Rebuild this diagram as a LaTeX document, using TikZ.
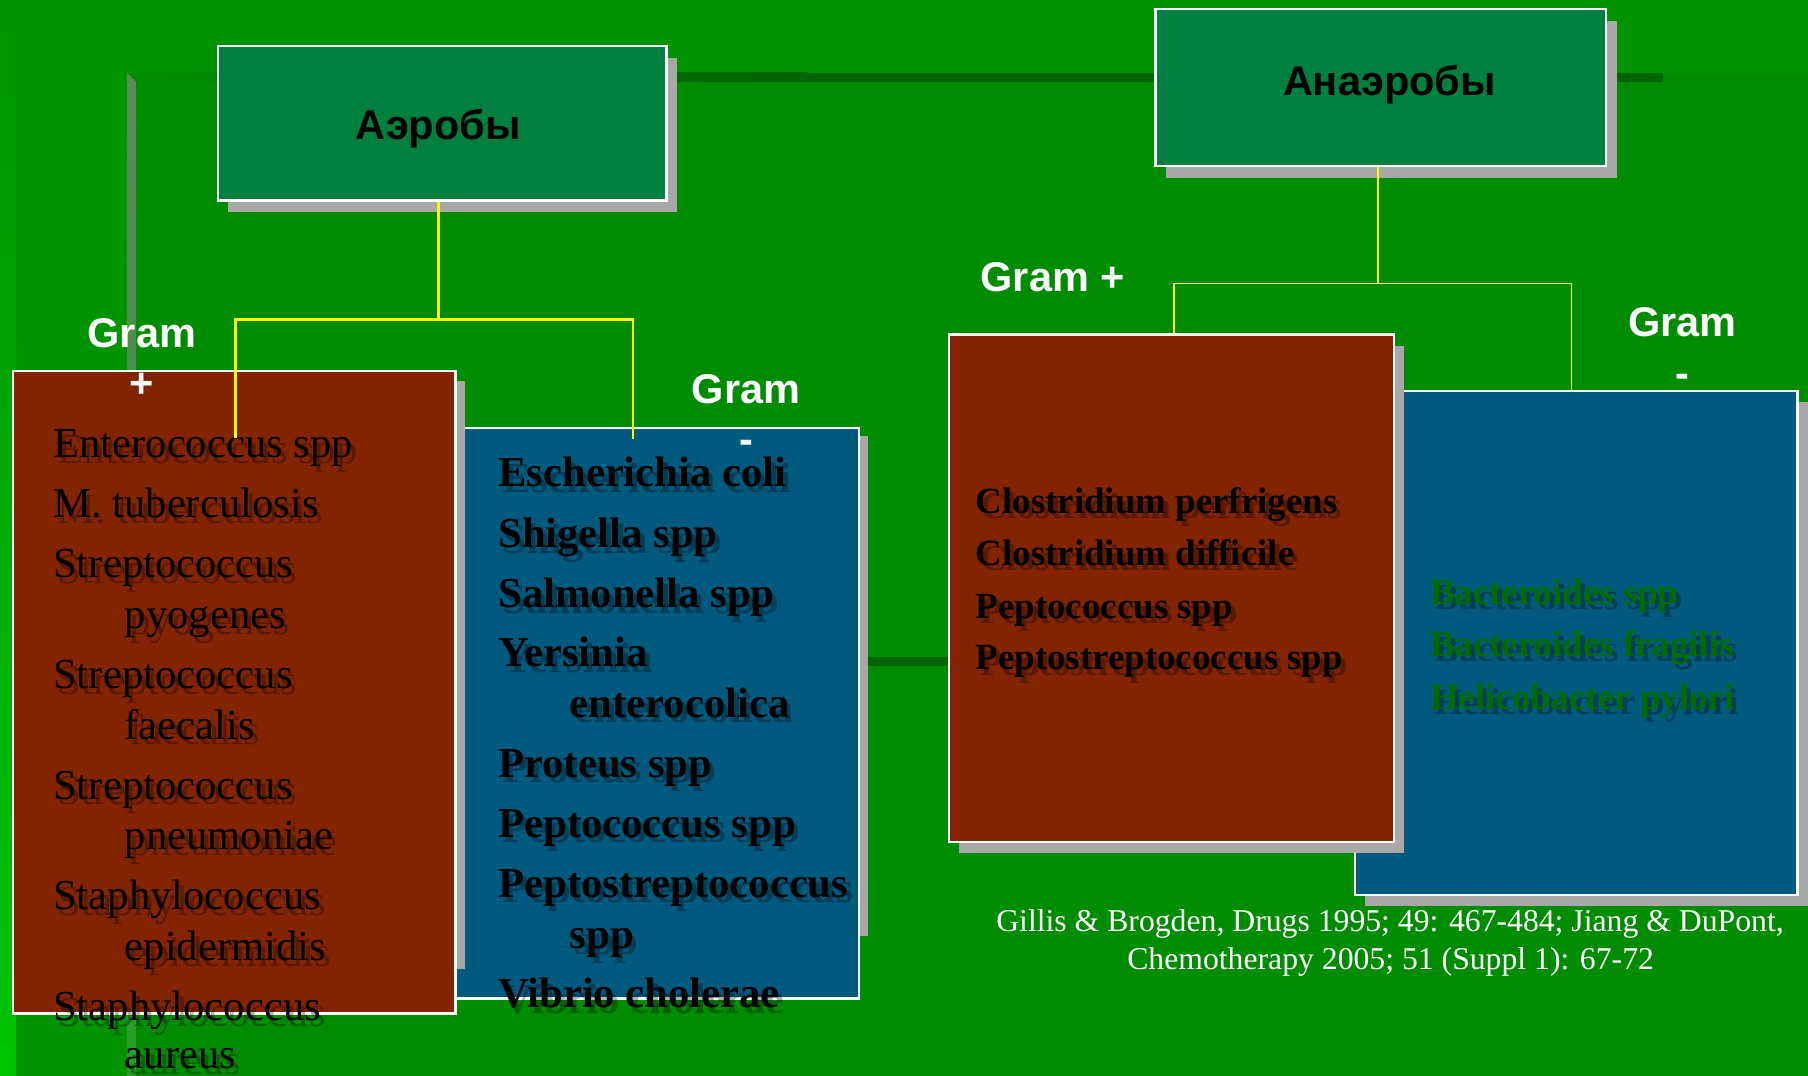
\documentclass[tikz,border=0pt]{standalone}
\usepackage{fontspec}
\setmainfont{Liberation Serif}
\newfontfamily\hsans{Liberation Sans}
\usetikzlibrary{shadows}
\definecolor{bgout}{HTML}{009400}
\definecolor{bgin}{HTML}{008C00}
\definecolor{brightg}{HTML}{00C400}
\definecolor{titlefill}{HTML}{008040}
\definecolor{brownfill}{HTML}{822400}
\definecolor{bluefill}{HTML}{005A7E}
\definecolor{shadowgrey}{HTML}{A8A8A8}
\definecolor{bargreen}{HTML}{006400}
\definecolor{framebar}{HTML}{5A8A5A}
\definecolor{listgreen}{HTML}{006C00}
\definecolor{yel}{HTML}{FFFF00}
\newcommand{\sline}[5]{%
  \node[#4, text=black, text opacity=0.3, anchor=base west] at (#2+4,#3+5) {#5};
  \node[#4, anchor=base west] (#1) at (#2,#3) {#5};
}
\begin{document}
\begin{tikzpicture}[x=1pt,y=-1pt,
  box/.style={draw=white, line width=2pt, inner sep=0pt, anchor=north west},
  sbox/.style={box, drop shadow={shadow xshift=9pt, shadow yshift=-10pt, fill=shadowgrey, opacity=1}},
  title/.style={font=\hsans\bfseries\fontsize{36}{40}\selectfont, text=black, text height=26pt, text depth=0pt, inner sep=0pt},
  gram/.style={font=\hsans\bfseries\fontsize{36}{40}\selectfont, text=white, inner sep=0pt, anchor=base},
  listR/.style={font=\fontsize{37}{44}\selectfont, text=black, inner sep=0pt},
  listB/.style={font=\bfseries\fontsize{37}{44}\selectfont, text=black, inner sep=0pt},
  listC/.style={font=\bfseries\fontsize{32}{38}\selectfont, text=black, inner sep=0pt},
  listD/.style={font=\bfseries\fontsize{32}{38}\selectfont, text=listgreen, inner sep=0pt},
  cite/.style={font=\fontsize{27.5}{33}\selectfont, text=white, inner sep=0pt, anchor=base},
  yline/.style={draw=yel, line width=2.4pt},
  ylinethin/.style={draw=yel, line width=1.3pt}]
\useasboundingbox (0,0) rectangle (1568,933);
% background and frame
\fill[bgout] (0,0) rectangle (1568,933);
\fill[bgin] (110,63) rectangle (1568,933);
\shade[top color=bgout, middle color=bgout!60!brightg, bottom color=brightg] (0,0) rectangle (14,933);
\shade[top color=framebar, bottom color=bgin!85!white] (110,63) -- (118,71) -- (118,933) -- (110,933) -- cycle;
\shade[left color=bgin, right color=bargreen] (118,63) rectangle (700,71);
\fill[bargreen] (700,63) rectangle (1442,71);
\fill[bargreen] (118,570) rectangle (1442,578);
% title boxes
\node[sbox, fill=titlefill, minimum width=389pt, minimum height=134pt] (aer) at (188,39) {};
\node[sbox, fill=titlefill, minimum width=391pt, minimum height=136pt] (anaer) at (1001,7) {};
\node[title] (aerT) at (380,108) {Аэробы};
\node[title] (anaerT) at (1205,70) {Анаэробы};
% aerobic boxes
\fill[shadowgrey] (744,378) rectangle (753,812);
\node[box, fill=bluefill, minimum width=352pt, minimum height=495pt] (agn) at (392,370) {};
\fill[shadowgrey] (394,330) rectangle (403,840);
\node[box, fill=brownfill, minimum width=384pt, minimum height=557pt] (agp) at (10,321) {};
% anaerobic boxes
\node[sbox, fill=bluefill, minimum width=384pt, minimum height=437pt] (bgn) at (1174,338) {};
\node[sbox, fill=brownfill, minimum width=386pt, minimum height=440pt] (bgp) at (822,289) {};
% lists
\sline{l1}{46}{397}{listR}{Enterococcus spp}
\sline{l2}{46}{449}{listR}{M. tuberculosis}
\sline{l3}{46}{501}{listR}{Streptococcus}
\sline{l4}{108}{545}{listR}{pyogenes}
\sline{l5}{46}{597}{listR}{Streptococcus}
\sline{l6}{108}{641}{listR}{faecalis}
\sline{l7}{46}{693}{listR}{Streptococcus}
\sline{l8}{108}{737}{listR}{pneumoniae}
\sline{l9}{46}{789}{listR}{Staphylococcus}
\sline{l10}{108}{833}{listR}{epidermidis}
\sline{l11}{46}{885}{listR}{Staphylococcus}
\sline{l12}{108}{927}{listR}{aureus}
\sline{r1}{432}{422}{listB}{Escherichia coli}
\sline{r2}{432}{475}{listB}{Shigella spp}
\sline{r3}{432}{527}{listB}{Salmonella spp}
\sline{r4}{432}{578}{listB}{Yersinia}
\sline{r5}{494}{622}{listB}{enterocolica}
\sline{r6}{432}{674}{listB}{Proteus spp}
\sline{r7}{432}{726}{listB}{Peptococcus spp}
\sline{r8}{432}{778}{listB}{Peptostreptococcus}
\sline{r9}{494}{823}{listB}{spp}
\sline{r10}{432}{874}{listB}{Vibrio cholerae}
\sline{c1}{846}{445}{listC}{Clostridium perfrigens}
\sline{c2}{846}{490}{listC}{Clostridium difficile}
\sline{c3}{846}{536}{listC}{Peptococcus spp}
\sline{c4}{846}{581}{listC}{Peptostreptococcus spp}
\sline{d1}{1240}{524}{listD}{Bacteroides spp}
\sline{d2}{1240}{569}{listD}{Bacteroides fragilis}
\sline{d3}{1240}{615}{listD}{Helicobacter pylori}
% connectors
\coordinate (aj) at (380,277);
\coordinate (aL) at (204,380);
\coordinate (aR) at (549,381);
\draw[yline] (aer.south -| aj) -- (aj);
\draw[yline] (aL) |- (aj) -| (aR);
\coordinate (bj) at (1195,246);
\coordinate (bL) at (1018,289);
\coordinate (bR) at (1363,338);
\draw[ylinethin] (anaer.south -| bj) -- (bj);
\draw[ylinethin] (bL) |- (bj) -| (bR);
% Gram labels
\node[gram] (g1) at (123,301) {Gram};
\node[gram] (g1s) at (123,345) {+};
\node[gram] (g2) at (647,350) {Gram};
\node[gram] (g2s) at (647,393) {-};
\node[gram] (g3) at (913,253) {Gram +};
\node[gram] (g4) at (1459,292) {Gram};
\node[gram] (g4s) at (1459,336) {-};
% citation
\node[cite] (cit1) at (1205.5,808) {Gillis \& Brogden, Drugs 1995; 49: 467-484; Jiang \& DuPont,};
\node[cite] (cit2) at (1206,841) {Chemotherapy 2005; 51 (Suppl 1): 67-72};
\end{tikzpicture}
\end{document}
